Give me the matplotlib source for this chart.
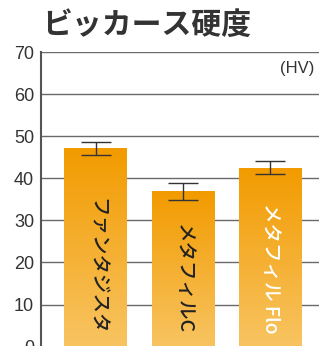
import matplotlib
matplotlib.use("Agg")
import matplotlib.pyplot as plt
import numpy as np
from matplotlib.colors import LinearSegmentedColormap

plt.rcParams['font.family'] = ['Liberation Sans', 'Noto Sans CJK JP', 'DejaVu Sans']

categories = ["ファンタジスタ", "メタフィルC", "メタフィル Flo"]
values = [47.1, 36.9, 42.5]
errors = [1.45, 1.95, 1.55]
label_colors = ["#222222", "#222222", "#ffffff"]
yticks = [0, 10, 20, 30, 40, 50, 60, 70]

fig = plt.figure(figsize=(3.19, 3.46), dpi=100)
ax = fig.add_axes([41/319, -0.002, 278/319, 0.8517])

x = np.arange(len(categories))
width = 0.724

for y in yticks:
    ax.axhline(y, color="#6a6a6a", lw=1.0, zorder=0)

cmap = LinearSegmentedColormap.from_list("g", ["#f8c462", "#f29b00"])
grad = np.linspace(0, 1, 256).reshape(-1, 1)
bars = ax.bar(x, values, width=width, color="none", zorder=2)
for b, v in zip(bars, values):
    x0 = b.get_x()
    ax.imshow(grad, cmap=cmap, origin="lower", aspect="auto",
              extent=[x0, x0 + b.get_width(), 0, v], zorder=2)
ax.set_xlim(-0.632, 2.563)
ax.set_ylim(0, 70)

ax.errorbar(x, values, yerr=errors, fmt="none", ecolor="#333333",
            elinewidth=1.0, capsize=11, capthick=1.0, zorder=3)

for xi, name, c in zip(x, categories, label_colors):
    ax.text(xi, 3.0, name, rotation=270, ha="center", va="bottom",
            fontsize=14, color=c, zorder=4,
            family=['Noto Sans CJK JP', 'DejaVu Sans'], fontweight="medium")

ax.set_yticks(yticks)
ax.set_xticks([])
ax.tick_params(axis="y", length=0, pad=5, labelsize=13, labelcolor="#333333")
for s in ["top", "right", "bottom"]:
    ax.spines[s].set_visible(False)
ax.spines["left"].set_color("#555555")
ax.spines["left"].set_linewidth(1.5)

fig.text(42/319, 1 - 25/346, "ビッカース硬度", fontsize=21.5, color="#333333",
         ha="left", va="center", family=['Noto Sans CJK JP', 'DejaVu Sans'],
         fontweight="semibold")
ax.text(0.985, 0.945, "(HV)", transform=ax.transAxes, ha="right", va="center",
        fontsize=12, color="#333333")

fig.savefig("out.png", dpi=100)
